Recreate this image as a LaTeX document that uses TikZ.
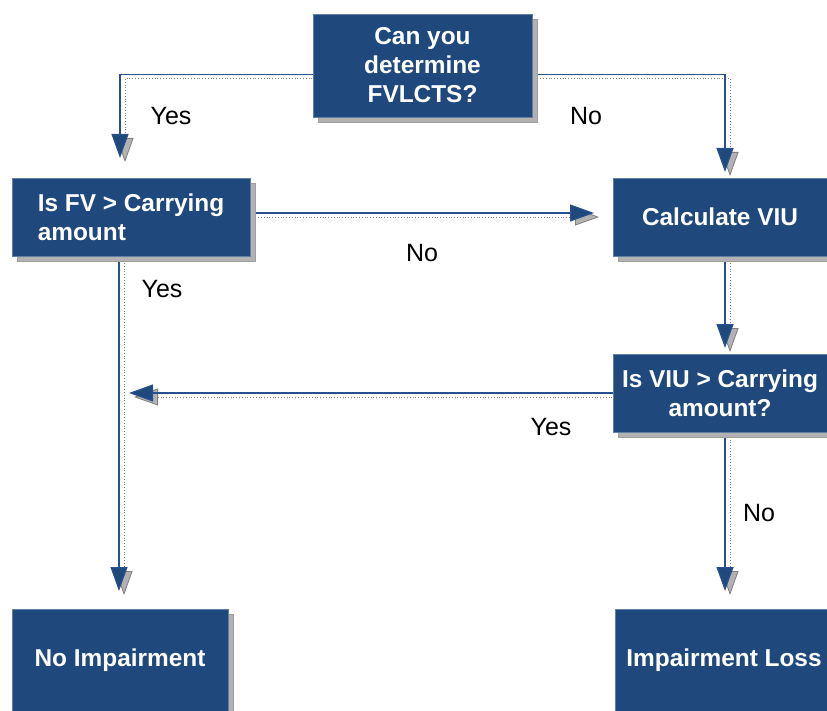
\documentclass[tikz,border=0pt]{standalone}
\usepackage{fontspec}
\setmainfont{Liberation Sans}
\usetikzlibrary{arrows.meta,shadows,backgrounds}
\definecolor{boxblue}{RGB}{31,73,125}
\definecolor{lineblue}{RGB}{40,80,140}
\tikzset{
  box/.style={fill=boxblue, draw=boxblue!70!white, line width=0.6pt, text=white,
    font=\bfseries\fontsize{24.4}{29}\selectfont, align=center, inner sep=0pt,
    general shadow={fill=gray!60, draw=gray!75, shadow xshift=5pt, shadow yshift=-5pt}},
  conn/.style={draw=lineblue, line width=1.3pt, -{Triangle[width=17pt,length=24pt,fill=boxblue]}},
  connsh/.style={draw=gray, line width=0.8pt, dotted,
    -{Triangle[width=17pt,length=24pt,fill=gray!60]},
    transform canvas={xshift=5pt,yshift=-4pt}},
  lbl/.style={font=\fontsize{25}{28}\selectfont, inner sep=0pt}
}
\begin{document}
\begin{tikzpicture}[x=1pt,y=-1pt]
\useasboundingbox (0,0) rectangle (827,711);
% boxes
\node[box, minimum width=219pt, minimum height=103pt] (top) at (422.5,65.5) {Can you\\determine\\FVLCTS?};
\node[box, minimum width=238pt, minimum height=78pt, align=left] (fv) at (131,217) {Is FV > Carrying\\amount};
\node[box, minimum width=214pt, minimum height=78pt] (calc) at (720,217) {Calculate VIU};
\node[box, minimum width=214pt, minimum height=78pt] (viu) at (720,393.5) {Is VIU > Carrying\\amount?};
\node[box, minimum width=216pt, minimum height=103pt] (noimp) at (120,660.5) {No Impairment};
\node[box, minimum width=218pt, minimum height=103pt] (loss) at (724,660.5) {Impairment Loss};
% arrow tips
\coordinate (tA) at (120,158);
\coordinate (tB) at (725,172);
\coordinate (tC) at (594,213);
\coordinate (tD) at (725,348);
\coordinate (tE) at (129,393);
\coordinate (tF) at (119,591);
\coordinate (tG) at (725,591);
% labels
\node[lbl] (l1) at (171,116) {Yes};
\node[lbl] (l2) at (586,116) {No};
\node[lbl] (l3) at (422,253) {No};
\node[lbl] (l4) at (162,289) {Yes};
\node[lbl] (l5) at (551,427) {Yes};
\node[lbl] (l6) at (759,513) {No};
\begin{scope}[on background layer]
  \foreach \s in {connsh,conn}{
    \draw[\s] ([yshift=-9pt]top.west) -| (tA);
    \draw[\s] ([yshift=-9pt]top.east) -| (tB);
    \draw[\s] (fv.east |- tC) -- (tC);
    \draw[\s] (tD |- calc.south) -- (tD);
    \draw[\s] (viu.west |- tE) -- (tE);
    \draw[\s] (tF |- fv.south) -- (tF);
    \draw[\s] (tG |- viu.south) -- (tG);
  }
\end{scope}
\end{tikzpicture}
\end{document}
